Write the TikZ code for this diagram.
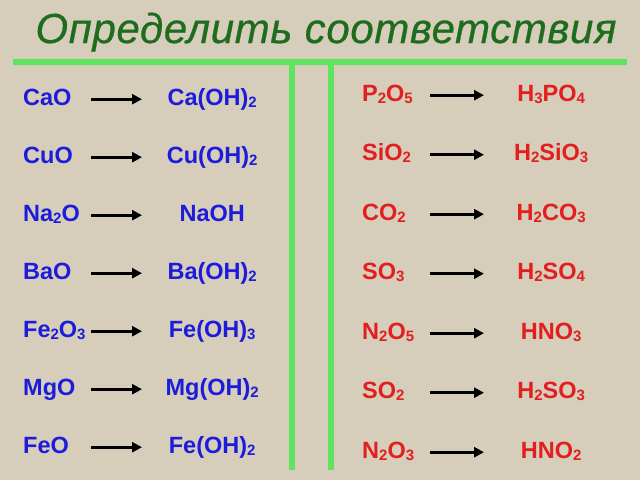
\documentclass[tikz,border=0pt]{standalone}
\usepackage{fontspec}
\setmainfont{Liberation Sans}
\usetikzlibrary{matrix,arrows.meta}

\definecolor{board}{RGB}{214,205,187}
\definecolor{divgreen}{RGB}{95,228,95}
\definecolor{headgreen}{RGB}{30,108,30}
\definecolor{baseblue}{RGB}{28,28,218}
\definecolor{acidred}{RGB}{226,30,30}

% small index digit in a formula
\newcommand{\ix}[1]{\raisebox{-2pt}{\fontsize{15}{15}\selectfont #1}}

\begin{document}
\begin{tikzpicture}[x=1pt,y=-1pt,font=\fontsize{23.5}{26}\selectfont\bfseries,
  table/.style={matrix of nodes,inner sep=0pt,row sep=36pt,column sep=51pt,
    nodes={inner sep=0pt,text height=17pt,text depth=5pt},
    column 1/.style={nodes={text width=68pt,align=left}},
    column 2/.style={nodes={text width=140pt,align=center}}},
  acids/.style={table,row sep=37.5pt,column sep=54pt,
    column 2/.style={nodes={text width=134pt,align=center}}},
  reacts/.style={-{Triangle[length=10pt,width=10pt]},line width=2.8pt},
  divider/.style={draw=divgreen,line width=6pt},
  heading/.style={text=headgreen,inner sep=0pt,
    font=\fontsize{42}{46}\selectfont\itshape\addfontfeature{FakeBold=0.6,LetterSpace=1.5}}
]

\fill[board] (0,0) rectangle (640,480);

\node[heading,anchor=base] (title) at (326,43) {Определить соответствия};

\draw[divider] (13,62) -- (627,62);
\draw[divider] (292,62) -- (292,470);
\draw[divider] (331,62) -- (331,470);

\matrix[table,text=baseblue,anchor=north west] (base) at (23,88) {
  CaO & Ca(OH)\ix2 \\
  CuO & Cu(OH)\ix2 \\
  Na\ix2O & NaOH \\
  BaO & Ba(OH)\ix2 \\
  Fe\ix2O\ix3 & Fe(OH)\ix3 \\
  MgO & Mg(OH)\ix2 \\
  FeO & Fe(OH)\ix2 \\ };

\matrix[acids,text=acidred,anchor=north west] (acid) at (362,84) {
  P\ix2O\ix5 & H\ix3PO\ix4 \\
  SiO\ix2 & H\ix2SiO\ix3 \\
  CO\ix2 & H\ix2CO\ix3 \\
  SO\ix3 & H\ix2SO\ix4 \\
  N\ix2O\ix5 & HNO\ix3 \\
  SO\ix2 & H\ix2SO\ix3 \\
  N\ix2O\ix3 & HNO\ix2 \\ };

\draw[reacts] (base-1-1.east) -- (base-1-2.west);
\draw[reacts] (base-2-1.east) -- (base-2-2.west);
\draw[reacts] (base-3-1.east) -- (base-3-2.west);
\draw[reacts] (base-4-1.east) -- (base-4-2.west);
\draw[reacts] (base-5-1.east) -- (base-5-2.west);
\draw[reacts] (base-6-1.east) -- (base-6-2.west);
\draw[reacts] (base-7-1.east) -- (base-7-2.west);

\draw[reacts] (acid-1-1.east) -- (acid-1-2.west);
\draw[reacts] (acid-2-1.east) -- (acid-2-2.west);
\draw[reacts] (acid-3-1.east) -- (acid-3-2.west);
\draw[reacts] (acid-4-1.east) -- (acid-4-2.west);
\draw[reacts] (acid-5-1.east) -- (acid-5-2.west);
\draw[reacts] (acid-6-1.east) -- (acid-6-2.west);
\draw[reacts] (acid-7-1.east) -- (acid-7-2.west);

\end{tikzpicture}
\end{document}
